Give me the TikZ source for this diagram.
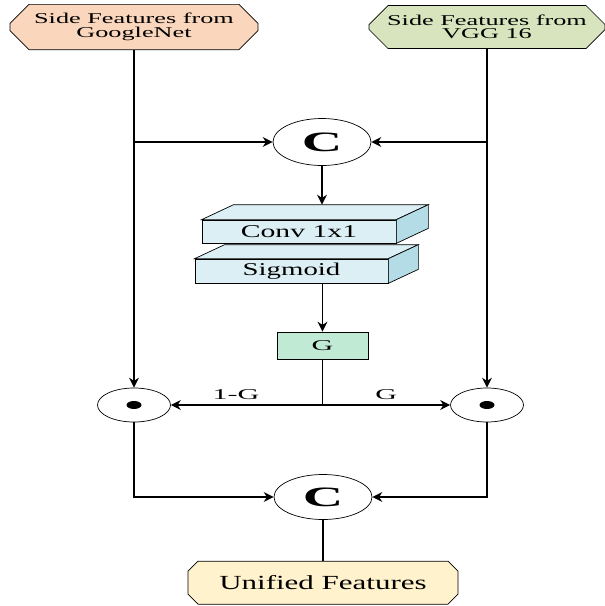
\documentclass[tikz,border=0pt]{standalone}
\usepackage{fontspec}
\setmainfont{Liberation Serif}
\usetikzlibrary{positioning,arrows.meta,shapes.geometric,shapes.misc}

\definecolor{peach}{HTML}{FAD6BC}
\definecolor{sage}{HTML}{D8E4BE}
\definecolor{iceblue}{HTML}{DCEFF4}
\definecolor{iceside}{HTML}{B4DCE6}
\definecolor{mint}{HTML}{C0EAD3}
\definecolor{cream}{HTML}{FFF2CC}

% text in the figure is set wide
\newcommand\wide[2][1.7]{\scalebox{#1}[1]{#2}}

\begin{document}
\begin{tikzpicture}[
  x=1pt, y=-1pt, line width=1.1pt,
  >={Stealth[length=10pt,width=10pt]},
  font=\fontsize{15}{13.5}\selectfont,
  src/.style={draw,line width=0.7pt,chamfered rectangle,chamfered rectangle xsep=10pt,
    chamfered rectangle ysep=9pt,minimum width=248pt,minimum height=43pt,inner sep=0pt,align=center},
  cat/.style={draw,line width=0.7pt,ellipse,minimum width=98pt,minimum height=47pt,inner sep=0pt,
    font=\fontsize{28}{28}\selectfont\bfseries},
  dot/.style={draw,line width=0.7pt,ellipse,minimum width=73pt,minimum height=34pt,inner sep=0pt},
  layer/.style={draw,line width=0.7pt,fill=iceblue,minimum height=23pt,inner sep=0pt,
    font=\fontsize{18}{18}\selectfont},
  face/.style={draw,line width=0.7pt,fill=#1},
  gate/.style={draw,line width=0.7pt,fill=mint,minimum width=91pt,minimum height=27pt,inner sep=0pt}
]
\useasboundingbox (0,0) rectangle (605,606);

\node[src,fill=peach] (gnet) at (134,27) {\wide[1.75]{Side Features from}\\\wide[1.75]{GoogleNet}};
\node[src,fill=sage,minimum width=236pt] (vgg) at (487,27) {\wide[1.75]{Side Features from}\\\wide[1.75]{VGG 16}};

\node[cat] (catA) at (322,142) {\wide[2]{C}};

% 3d layer blocks
\node[layer,minimum width=194pt] (conv) at (299,231.5) {\wide[1.65]{Conv 1x1}};
\draw[face=iceblue] (conv.north west) -- ++(32,-15) -- ([shift={(32,-15)}]conv.north east) -- (conv.north east) -- cycle;
\draw[face=iceside] (conv.north east) -- ++(32,-15) -- ([shift={(32,-15)}]conv.south east) -- (conv.south east) -- cycle;
\node[layer,minimum width=193pt,minimum height=24pt] (sig) at (291.5,271) {\wide[1.6]{Sigmoid}};
\draw[face=iceblue] (sig.north west) -- ++(30,-14) -- ([shift={(30,-14)}]sig.north east) -- (sig.north east) -- cycle;
\draw[face=iceside] (sig.north east) -- ++(30,-14) -- ([shift={(30,-14)}]sig.south east) -- (sig.south east) -- cycle;
\coordinate (convtop) at ([yshift=15pt]conv.north);

\node[gate] (g) at (322.5,345.5) {\wide[2]{G}};

\node[dot] (dotL) at (134,405) {};
\node[dot] (dotR) at (487,405) {};
\fill (dotL) ellipse [x radius=7.5pt, y radius=4pt];
\fill (dotR) ellipse [x radius=7.5pt, y radius=4pt];
\coordinate (split) at (g.south |- dotL);

\node[cat,minimum height=45pt] (catB) at (323,497) {\wide[2]{C}};
\node[src,fill=cream,chamfered rectangle xsep=5pt,chamfered rectangle ysep=5pt,minimum width=270pt,
  below=41pt of catB,font=\fontsize{20}{20}\selectfont] (uni) {\wide[1.55]{Unified Features}};

\draw[->] (gnet.south) -- (dotL.north);
\draw[->] (vgg.south) -- (dotR.north);
\draw[->] (gnet.south |- catA) -- (catA.west);
\draw[->] (vgg.south |- catA) -- (catA.east);
\draw[->] (catA.south) -- (catA.south |- convtop);
\draw[->] (g.north |- sig.south) -- (g.north);
\draw (g.south) -- (split);
\draw[->] (split) -- node[above=1pt,pos=.57]{\wide[2]{1-G}} (dotL.east);
\draw[->] (split) -- node[above=1pt]{\wide[2]{G}} (dotR.west);
\draw[->] (dotL.south) |- (catB.west);
\draw[->] (dotR.south) |- (catB.east);
\draw (catB.south) -- (uni.north);
\end{tikzpicture}
\end{document}
